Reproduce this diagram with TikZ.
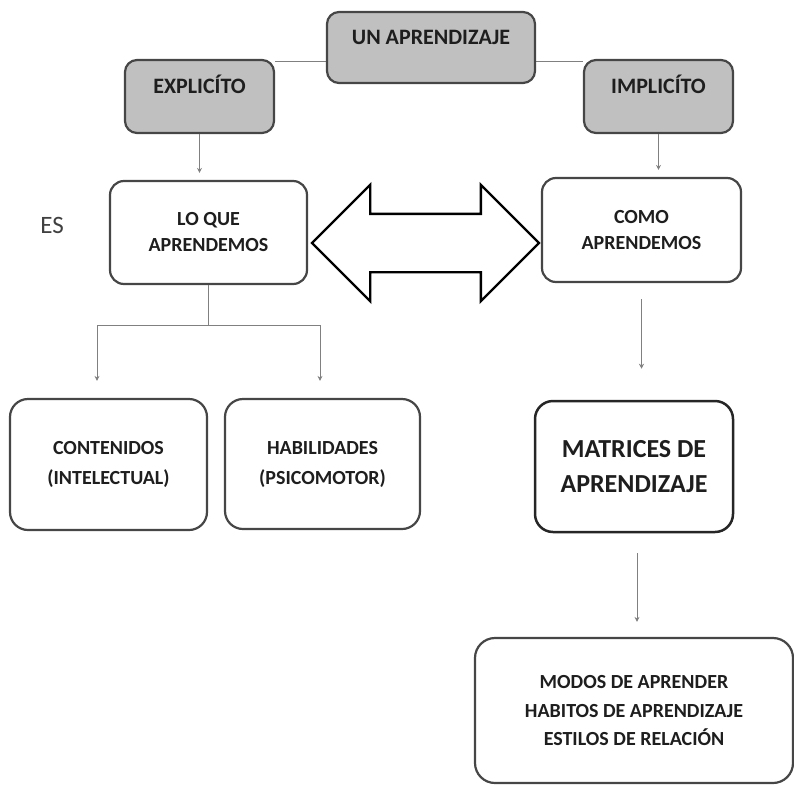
\documentclass[tikz,border=0pt]{standalone}
\usepackage{fontspec}
\setmainfont{Carlito}
\usetikzlibrary{positioning, arrows.meta, shapes.arrows, backgrounds, calc}
\definecolor{boxgray}{RGB}{192,192,192}
\definecolor{boxedge}{RGB}{70,70,70}
\definecolor{linkgray}{RGB}{128,128,128}
\definecolor{textdark}{RGB}{30,30,30}

\begin{document}
\begin{tikzpicture}[x=1pt, y=-1pt, >={Stealth[length=5pt, width=5pt]},
    box/.style={draw=boxedge, line width=2.2pt, rounded corners=14pt, fill=white,
        align=center, inner sep=0pt, text=textdark,
        font=\bfseries\fontsize{20}{26}\selectfont},
    graybox/.style={box, fill=boxgray, rounded corners=12pt, text height=15pt, text depth=21pt,
        minimum width=149pt, minimum height=73pt, font=\bfseries\fontsize{22}{26}\selectfont},
    link/.style={draw=linkgray, line width=0.8pt},
    arr/.style={link, ->}]

% Marco
\useasboundingbox (0,0) rectangle (794,784);

% Nivel superior
\node[graybox, minimum width=208pt, minimum height=71pt] (un) at (431,47.5) {UN APRENDIZAJE};
\node[graybox] (expl) at (199.5,96.5) {EXPLICÍTO};
\node[graybox] (impl) at (658.5,96.5) {IMPLICÍTO};

% Lo que / como
\node[font=\fontsize{25}{30}\selectfont, text=black!75] (es) at (52,225) {ES};
\node[box, minimum width=197pt, minimum height=103pt] (loque) at (208.5,232.5) {LO QUE\\APRENDEMOS};
\node[box, minimum width=199pt, minimum height=104pt] (como) at (641.5,230) {COMO\\APRENDEMOS};

% Flecha doble
\node[double arrow, draw=black, line width=2.4pt, fill=white, inner xsep=0pt, inner ysep=28pt,
    minimum height=227pt, minimum width=114pt, double arrow head extend=29pt] (dual) at (425.5,243) {};

% Contenidos y habilidades
\node[box, minimum width=197pt, minimum height=131pt, rounded corners=18pt, font=\bfseries\fontsize{20}{30}\selectfont] (cont) at (108.5,464.5) {CONTENIDOS\\(INTELECTUAL)};
\node[box, minimum width=195pt, minimum height=130pt, rounded corners=18pt, font=\bfseries\fontsize{20}{30}\selectfont] (hab) at (322.5,464) {HABILIDADES\\(PSICOMOTOR)};

% Matrices
\node[box, draw=black!85, line width=2.5pt, minimum width=198pt, minimum height=131pt, rounded corners=18pt, font=\bfseries\fontsize{26}{35}\selectfont] (matr) at (634,466.5) {MATRICES DE\\APRENDIZAJE};
\node[box, minimum width=318pt, minimum height=145pt, rounded corners=20pt, font=\bfseries\fontsize{20}{28.5}\selectfont] (modos) at (634,710.5) {MODOS DE APRENDER\\HABITOS DE APRENDIZAJE\\ESTILOS DE RELACIÓN};

% Conectores
\begin{scope}[on background layer]
\draw[link] ($(expl.north east)+(0,2)$) -- ($(expl.north east -| un.west)+(0,2)$);
\draw[link] ($(impl.north west)+(0,2)$) -- ($(impl.north west -| un.east)+(0,2)$);
\end{scope}
\draw[arr, shorten >=7pt] (expl.south) -- (expl.south |- loque.north);
\draw[arr, shorten >=7pt] (impl.south) -- (impl.south |- como.north);

% Ramas
\coordinate (fork) at ($(loque.south)+(0,41)$);
\coordinate (forkL) at (97,325);
\coordinate (forkR) at (320,325);
\draw[link] (loque.south) -- (fork);
\draw[link] (forkL) -- (forkR);
\draw[arr, shorten >=17pt] (forkL) -- (forkL |- cont.north);
\draw[arr, shorten >=17pt] (forkR) -- (forkR |- hab.north);

\draw[arr, shorten <=16pt, shorten >=31pt] (como.south) -- (como.south |- matr.north);
\draw[arr, shorten <=20pt, shorten >=15pt] ([xshift=3pt]matr.south) -- ([xshift=3pt]matr.south |- modos.north);

\end{tikzpicture}
\end{document}
